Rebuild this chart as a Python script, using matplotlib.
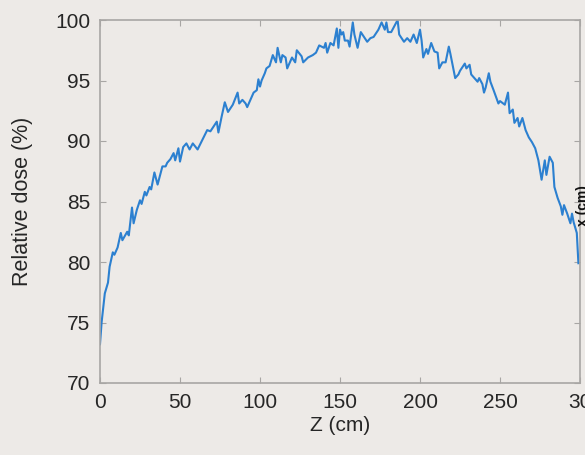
import matplotlib.pyplot as plt
import numpy as np

# depth along beam (cm) and relative dose (%)
z_cm = [0, 1, 3, 5, 6, 8, 9, 11, 13, 14, 17, 18, 20, 21, 23, 25, 26, 28, 29, 31,
        32, 34, 36, 39, 41, 42, 44, 46, 47, 49, 50, 52, 54, 56, 58, 61, 64, 67, 69, 71,
        73, 74, 76, 78, 80, 81, 83, 86, 87, 89, 91, 92, 96, 98, 99, 100, 101, 103, 104, 106,
        108, 110, 111, 113, 114, 116, 117, 120, 122, 123, 126, 127, 130, 133, 135, 137, 140, 141, 142, 144,
        146, 148, 149, 150, 151, 152, 153, 155, 156, 158, 159, 161, 163, 164, 167, 169, 171, 174, 176, 178,
        179, 180, 182, 186, 187, 190, 192, 194, 196, 198, 200, 201, 202, 204, 205, 207, 209, 211, 212, 214,
        216, 218, 219, 222, 224, 225, 228, 229, 231, 232, 236, 237, 239, 240, 241, 243, 244, 246, 249, 250,
        253, 255, 256, 258, 259, 261, 262, 264, 266, 268, 270, 272, 274, 276, 278, 279, 281, 283, 284, 286,
        288, 289, 290, 292, 294, 295, 296, 298, 299]
dose = [73.2, 75.0, 77.4, 78.3, 79.6, 80.8, 80.6, 81.2, 82.4, 81.8, 82.5, 82.2, 84.5, 83.2, 84.3, 85.1, 84.8, 85.8, 85.5, 86.2,
        86.0, 87.4, 86.4, 87.9, 87.9, 88.2, 88.5, 89.0, 88.4, 89.4, 88.3, 89.5, 89.8, 89.3, 89.8, 89.3, 90.1, 90.9, 90.8, 91.2,
        91.6, 90.7, 92.0, 93.2, 92.4, 92.6, 93.0, 94.0, 93.1, 93.4, 93.1, 92.8, 94.0, 94.2, 95.1, 94.5, 95.0, 95.6, 96.0, 96.2,
        97.1, 96.5, 97.7, 96.5, 97.1, 96.9, 96.0, 96.9, 96.5, 97.5, 97.0, 96.5, 96.9, 97.1, 97.3, 97.9, 97.7, 98.1, 97.3, 98.1,
        97.9, 99.3, 97.7, 99.2, 98.8, 99.0, 98.3, 98.3, 97.8, 99.8, 98.8, 97.7, 99.0, 98.8, 98.2, 98.5, 98.6, 99.2, 99.8, 99.2,
        99.8, 99.0, 99.0, 100.0, 98.8, 98.2, 98.5, 98.2, 98.8, 98.1, 99.2, 98.3, 96.9, 97.6, 97.2, 98.1, 97.4, 97.3, 96.0, 96.5,
        96.5, 97.8, 97.2, 95.2, 95.5, 95.8, 96.4, 96.0, 96.3, 95.5, 94.9, 95.2, 94.7, 94.0, 94.4, 95.6, 94.9, 94.2, 93.1, 93.3,
        93.0, 94.0, 92.3, 92.6, 91.5, 91.9, 91.2, 91.9, 90.9, 90.3, 89.9, 89.4, 88.4, 86.8, 88.4, 87.2, 88.7, 88.2, 86.2, 85.3,
        84.6, 83.9, 84.7, 84.0, 83.2, 84.0, 83.3, 82.4, 79.9]

x_ticks = [0, 50, 100, 150, 200, 250, 300]
y_ticks = [70, 75, 80, 85, 90, 95, 100]

bg = '#edeae7'
plt.rcParams['font.family'] = ['Liberation Sans', 'DejaVu Sans']

fig = plt.figure(figsize=(5.85, 4.55), dpi=100, facecolor=bg)
ax = fig.add_axes([100 / 585, 1 - 383 / 455, 480 / 585, 363 / 455], facecolor=bg)

ax.plot(z_cm, dose, color='#2c80d0', linewidth=1.5)

ax.set_xlim(0, 300)
ax.set_ylim(70, 100)
ax.set_xticks(x_ticks)
ax.set_xticklabels(['0', '50', '100', '150', '200', '250', '30'])
ax.set_yticks(y_ticks)
for s in ax.spines.values():
    s.set_color('#a8a6a4')
    s.set_linewidth(1.2)
ax.tick_params(direction='in', length=4, color='#a8a6a4', labelsize=15,
               labelcolor='#262626', top=True, right=True, pad=7)

ax.set_xlabel('Z (cm)', fontsize=15, color='#262626', labelpad=3)
ax.set_ylabel('Relative dose (%)', fontsize=15.5, color='#262626', labelpad=16)

# axis label of a neighbouring panel, cut off at the right edge as in the source
fig.text(583 / 585, 1 - 206 / 455, 'x (cm)', rotation=90, ha='center', va='center',
         fontsize=10, fontweight='bold', color='#111111')

fig.savefig('out.png', dpi=100, facecolor=bg)
